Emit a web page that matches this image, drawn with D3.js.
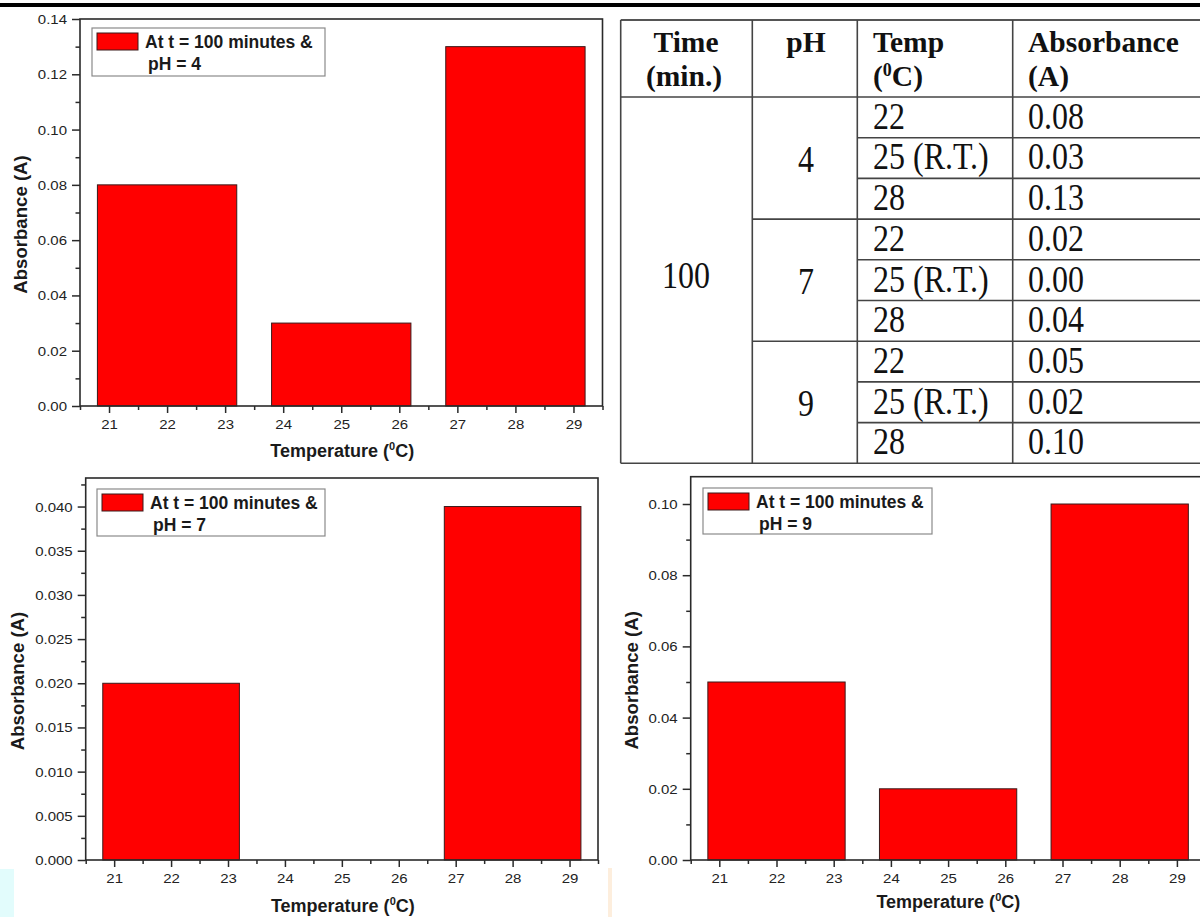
<!DOCTYPE html>
<html>
<head>
<meta charset="utf-8">
<script src="https://cdn.jsdelivr.net/npm/d3@7"></script>
<style>
  html, body { margin: 0; padding: 0; background: #fff; }
  svg { display: block; }
</style>
</head>
<body>
<svg id="chart"></svg>
<script>
// Temperatures (bar centres) and absorbance readings, one array per pH
const temps = [22, 25, 28];
const tempLabels = ['22', '25 (R.T.)', '28'];
const phValues = [4, 7, 9];
const timeValue = 100;
const absPH4 = [0.08, 0.03, 0.13];
const absPH7 = [0.02, 0.00, 0.04];
const absPH9 = [0.05, 0.02, 0.10];

// Axis ticks
const xTicks = [21, 22, 23, 24, 25, 26, 27, 28, 29];
const xMinor = [20.5, 21.5, 22.5, 23.5, 24.5, 25.5, 26.5, 27.5, 28.5, 29.5];
const yTicksPH4 = [0, 0.02, 0.04, 0.06, 0.08, 0.10, 0.12, 0.14];
const yMinorPH4 = [0.01, 0.03, 0.05, 0.07, 0.09, 0.11, 0.13];
const yTicksPH7 = [0, 0.005, 0.010, 0.015, 0.020, 0.025, 0.030, 0.035, 0.040];
const yMinorPH7 = [0.0025, 0.0075, 0.0125, 0.0175, 0.0225, 0.0275, 0.0325, 0.0375, 0.0425];
const yTicksPH9 = [0, 0.02, 0.04, 0.06, 0.08, 0.10];
const yMinorPH9 = [0.01, 0.03, 0.05, 0.07, 0.09];

const W = 1200, H = 917;
const sans = '"Liberation Sans", Arial, sans-serif';
const serif = '"Liberation Serif", "Times New Roman", serif';
const ink = '#2a2a2a';
const stretch = 1.2;   // the scanned plots are wider than tall

const svg = d3.select('#chart').attr('width', W).attr('height', H);

// stray scan strips at the bottom
svg.append('rect').attr('x', 0).attr('y', 869).attr('width', 14).attr('height', 48).attr('fill', '#e2fcfc');
svg.append('rect').attr('x', 608).attr('y', 868).attr('width', 4).attr('height', 49).attr('fill', '#fdeedd');

const panels = [
  { values: absPH4, ph: 4, yMax: 0.14, ticks: yTicksPH4, minor: yMinorPH4, fmt: '.2f',
    left: 80, right: 602.5, top: 19, bottom: 406, yTitleX: 27, xTitleY: 457,
    legend: { x: 92, y: 28, w: 233, h: 48 } },
  { values: absPH7, ph: 7, yMax: 0.04323, ticks: yTicksPH7, minor: yMinorPH7, fmt: '.3f',
    left: 85.7, right: 598, top: 478, bottom: 860, yTitleX: 24, xTitleY: 912,
    legend: { x: 97, y: 489, w: 228, h: 47 } },
  { values: absPH9, ph: 9, yMax: 0.10767, ticks: yTicksPH9, minor: yMinorPH9, fmt: '.2f',
    left: 690.7, right: 1205.5, top: 476.7, bottom: 860, yTitleX: 638, xTitleY: 908,
    legend: { x: 703, y: 488, w: 229, h: 46 } }
];

function drawPanel(p) {
  const x = d3.scaleLinear().domain([20.5, 29.5]).range([p.left, p.right]);
  const y = d3.scaleLinear().domain([0, p.yMax]).range([p.bottom, p.top]);
  const g = svg.append('g');

  // Bars, 2.4 °C wide around each temperature
  const bars = p.values.map((v, i) => ({ t: temps[i], v }));
  g.append('g').selectAll('rect')
    .data(bars)
    .join('rect')
    .attr('x', d => x(d.t - 1.2))
    .attr('width', d => x(d.t + 1.2) - x(d.t - 1.2))
    .attr('y', d => y(d.v))
    .attr('height', d => y(0) - y(d.v))
    .attr('fill', '#ff0000')
    .attr('stroke', '#3a1a1a')
    .attr('stroke-width', 1);

  // Frame
  g.append('rect')
    .attr('x', p.left).attr('y', p.top)
    .attr('width', p.right - p.left).attr('height', p.bottom - p.top)
    .attr('fill', 'none').attr('stroke', ink).attr('stroke-width', 1.6);

  // X axis (major + minor)
  const xAx = g.append('g').attr('transform', `translate(0,${p.bottom})`)
    .call(d3.axisBottom(x).tickValues(xTicks).tickSize(7).tickSizeOuter(0).tickPadding(7).tickFormat(d3.format('d')));
  const xMin = g.append('g').attr('transform', `translate(0,${p.bottom})`)
    .call(d3.axisBottom(x).tickValues(xMinor).tickSize(4).tickSizeOuter(0).tickFormat(''));

  // Y axis (major + minor)
  const yAx = g.append('g').attr('transform', `translate(${p.left},0)`)
    .call(d3.axisLeft(y).tickValues(p.ticks).tickSize(8).tickSizeOuter(0).tickPadding(5).tickFormat(d3.format(p.fmt)));
  const yMin = g.append('g').attr('transform', `translate(${p.left},0)`)
    .call(d3.axisLeft(y).tickValues(p.minor).tickSize(4.5).tickSizeOuter(0).tickFormat(''));

  [xAx, xMin, yAx, yMin].forEach(a => {
    a.select('.domain').remove();
    a.selectAll('line').attr('stroke', ink).attr('stroke-width', 1.5);
    a.selectAll('text')
      .attr('font-family', sans).attr('font-size', '12.5px').attr('fill', '#222')
      .attr('transform', `scale(${stretch},1)`);
  });
  yAx.selectAll('text').attr('x', -13 / stretch).attr('dy', '0.36em');

  // Axis titles
  g.append('text')
    .attr('transform', `translate(${p.yTitleX},${(p.top + p.bottom) / 2 + 12}) rotate(-90)`)
    .attr('text-anchor', 'middle')
    .attr('font-family', sans).attr('font-size', '18.6px').attr('font-weight', 'bold').attr('fill', '#1a1a1a')
    .text('Absorbance (A)');

  const xt = g.append('text')
    .attr('x', (p.left + Math.min(p.right, 1204)) / 2 + 1)
    .attr('y', p.xTitleY)
    .attr('text-anchor', 'middle')
    .attr('font-family', sans).attr('font-size', '18px').attr('font-weight', 'bold').attr('fill', '#1a1a1a');
  xt.append('tspan').text('Temperature (');
  xt.append('tspan').attr('font-size', '11px').attr('dy', -7).text('0');
  xt.append('tspan').attr('dy', 7).text('C)');

  // Legend
  const L = p.legend;
  const lg = g.append('g');
  lg.append('rect').attr('x', L.x).attr('y', L.y).attr('width', L.w).attr('height', L.h)
    .attr('fill', '#fff').attr('stroke', '#8a8a8a').attr('stroke-width', 1.2);
  lg.append('rect').attr('x', L.x + 5).attr('y', L.y + 5).attr('width', 41).attr('height', 17)
    .attr('fill', '#ff0000').attr('stroke', '#3a1a1a').attr('stroke-width', 1);
  lg.append('text').attr('x', L.x + 53).attr('y', L.y + 20)
    .attr('font-family', sans).attr('font-size', '17.5px').attr('font-weight', 'bold').attr('fill', '#1a1a1a')
    .text('At t = 100 minutes &');
  lg.append('text').attr('x', L.x + 56).attr('y', L.y + 42)
    .attr('font-family', sans).attr('font-size', '17.5px').attr('font-weight', 'bold').attr('fill', '#1a1a1a')
    .text(`pH = ${p.ph}`);
}

panels.forEach(drawPanel);

// ---- Table (top right) ----
const colX = [620.7, 752.3, 857.3, 1012.7, 1210];
const headTop = 20, headBottom = 97, rowH = 40.7;
const absByPh = [absPH4, absPH7, absPH9];
const tbl = svg.append('g');
const lineColor = '#444';
const rowY = i => headBottom + i * rowH;
const tableBottom = rowY(9);

// outer border and header line
tbl.append('line').attr('x1', colX[0]).attr('x2', colX[4]).attr('y1', headTop).attr('y2', headTop)
  .attr('stroke', '#555').attr('stroke-width', 2);
tbl.append('line').attr('x1', colX[0]).attr('x2', colX[4]).attr('y1', headBottom).attr('y2', headBottom)
  .attr('stroke', lineColor).attr('stroke-width', 1.6);
tbl.append('line').attr('x1', colX[0]).attr('x2', colX[4]).attr('y1', tableBottom).attr('y2', tableBottom)
  .attr('stroke', lineColor).attr('stroke-width', 1.6);
colX.slice(0, 4).forEach(cx => {
  tbl.append('line').attr('x1', cx).attr('x2', cx).attr('y1', headTop).attr('y2', tableBottom)
    .attr('stroke', lineColor).attr('stroke-width', 1.6);
});
// row lines: pH column only between groups, temp/absorbance columns every row
d3.range(1, 9).forEach(i => {
  const x1 = i % 3 === 0 ? colX[1] : colX[2];
  tbl.append('line').attr('x1', x1).attr('x2', colX[4]).attr('y1', rowY(i)).attr('y2', rowY(i))
    .attr('stroke', lineColor).attr('stroke-width', 1.6);
});

function cellText(x, y, str, opts = {}) {
  const t = tbl.append('text')
    .attr('transform', `translate(${x},${y}) scale(1,${opts.sy || 1.2})`)
    .attr('text-anchor', opts.anchor || 'start')
    .attr('font-family', serif)
    .attr('font-size', (opts.size || 32) + 'px')
    .attr('font-weight', opts.bold ? 'bold' : 'normal')
    .attr('fill', '#111');
  return t.text(str);
}

// header
const hOpt = { bold: true, size: 29.5, sy: 1.0 };
cellText(686, 52, 'Time', { ...hOpt, anchor: 'middle' });
cellText(684, 86, '(min.)', { ...hOpt, anchor: 'middle' });
cellText(806, 52, 'pH', { ...hOpt, anchor: 'middle' });
cellText(873, 52, 'Temp', hOpt);
const tc = cellText(873, 86, '(', hOpt);
tc.append('tspan').attr('font-size', '18px').attr('dy', -10).text('0');
tc.append('tspan').attr('dy', 10).text('C)');
cellText(1028, 52, 'Absorbance', hOpt);
cellText(1028, 86, '(A)', hOpt);

// body
cellText(686, 288, String(timeValue), { anchor: 'middle' });
phValues.forEach((ph, g) => {
  const mid = (rowY(g * 3) + rowY(g * 3 + 3)) / 2;
  cellText(806, mid + 14, String(ph), { anchor: 'middle' });
  temps.forEach((t, k) => {
    const base = rowY(g * 3 + k + 1) - 9;
    cellText(873, base, tempLabels[k]);
    cellText(1028, base, d3.format('.2f')(absByPh[g][k]));
  });
});

// thick black rule across the top
svg.append('rect').attr('x', 0).attr('y', 3).attr('width', W).attr('height', 4).attr('fill', '#000');
</script>
</body>
</html>
